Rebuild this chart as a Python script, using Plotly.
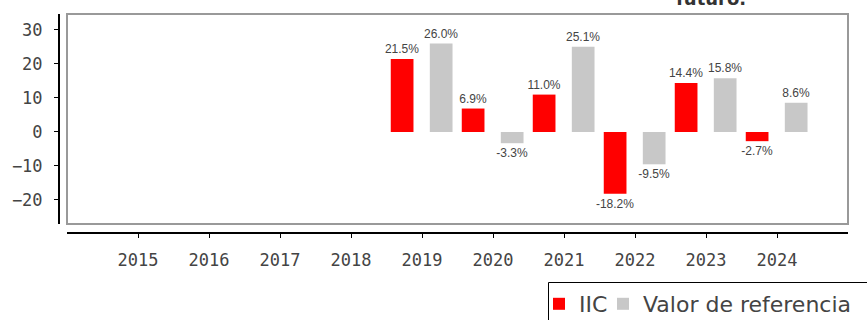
import plotly.graph_objects as go

years = [2015, 2016, 2017, 2018, 2019, 2020, 2021, 2022, 2023, 2024]
iic = [None, None, None, None, 21.5, 6.9, 11.0, -18.2, 14.4, -2.7]
ref = [None, None, None, None, 26.0, -3.3, 25.1, -9.5, 15.8, 8.6]
y_ticks = [-20, -10, 0, 10, 20, 30]

def lbl(vals):
    return ["" if v is None else f"{v:.1f}%" for v in vals]

OFF = 0  # page body margin removed by post_script
W, H = 867 - OFF, 320 - OFF
x_left, x_right = 59, 848      # window px of y-axis line / plot right edge
y_top, y_axis = 14, 233        # window px of plot top / x-axis line
ml, mt = x_left - OFF, y_top - OFF
mr = W - (x_right - OFF)
mb = H - (y_axis - OFF)
pw = W - ml - mr
ph = H - mt - mb

def px_x(px):
    return (px - x_left) / pw

def px_y(py):
    return (y_axis - py) / ph

x_dom0 = px_x(67)
y_dom0 = px_y(224)

fig = go.Figure()
fig.add_trace(go.Bar(
    x=years, y=iic, name="IIC", marker=dict(color="#ff0000", line=dict(width=0)),
    width=0.32, offset=-0.44, legend="legend",
    text=lbl(iic), textposition="outside", cliponaxis=False, constraintext="none",
    textfont=dict(family="Liberation Sans, Arial", size=12, color="#444444"),
))
fig.add_trace(go.Bar(
    x=years, y=ref, name="Valor de referencia", marker=dict(color="#c8c8c8", line=dict(width=0)),
    width=0.32, offset=0.11, legend="legend2",
    text=lbl(ref), textposition="outside", cliponaxis=False, constraintext="none",
    textfont=dict(family="Liberation Sans, Arial", size=12, color="#444444"),
))

leg_font = dict(family="DejaVu Sans", size=22, color="#444444")
fig.update_layout(
    width=W, height=H,
    margin=dict(l=ml, r=mr, t=mt, b=mb, autoexpand=False),
    paper_bgcolor="white", plot_bgcolor="white",
    barmode="overlay",
    showlegend=True,
    legend=dict(
        orientation="h", x=px_x(539), xanchor="left",
        y=px_y(283), yanchor="top", borderwidth=0,
        bgcolor="rgba(0,0,0,0)", font=leg_font,
    ),
    legend2=dict(
        orientation="h", x=px_x(603), xanchor="left",
        y=px_y(283), yanchor="top", borderwidth=0,
        bgcolor="rgba(0,0,0,0)", font=leg_font,
    ),
    xaxis=dict(
        domain=[x_dom0, 1], anchor="free", position=0,
        range=[2014.0, 2025.0], tickvals=years, ticktext=[str(y) for y in years],
        showgrid=False, zeroline=False,
        showline=True, linecolor="black", linewidth=2,
        ticks="outside", ticklen=4, tickcolor="black", tickwidth=1,
        ticklabelstandoff=8,
        tickfont=dict(family="DejaVu Sans Mono", size=17, color="#444444"),
    ),
    yaxis=dict(
        domain=[y_dom0, 1], anchor="free", position=0,
        range=[-27.06, 34.7], tickvals=y_ticks,
        showgrid=False, zeroline=False,
        showline=True, linecolor="black", linewidth=2,
        ticks="outside", ticklen=4, tickcolor="black", tickwidth=1,
        ticklabelstandoff=8,
        tickfont=dict(family="DejaVu Sans Mono", size=17, color="#444444"),
    ),
    shapes=[
        dict(type="rect", xref="paper", yref="paper",
             x0=x_dom0, x1=1, y0=y_dom0, y1=1,
             line=dict(color="#999999", width=2), layer="below"),
        dict(type="rect", xref="paper", yref="paper",
             x0=px_x(548.5), x1=px_x(900), y0=px_y(282.5), y1=px_y(340),
             line=dict(color="black", width=1), layer="above"),
    ],
    annotations=[dict(
        text="<b>futuro.</b>", xref="paper", yref="paper",
        x=px_x(711), y=px_y(11), xanchor="center", yanchor="bottom",
        showarrow=False, font=dict(family="DejaVu Sans", size=18, color="#333333"),
    )],
)

fig.write_html(
    "out.html",
    config={"displayModeBar": False},
    post_script="document.body.style.margin='0';document.body.style.overflow='hidden';",
)
